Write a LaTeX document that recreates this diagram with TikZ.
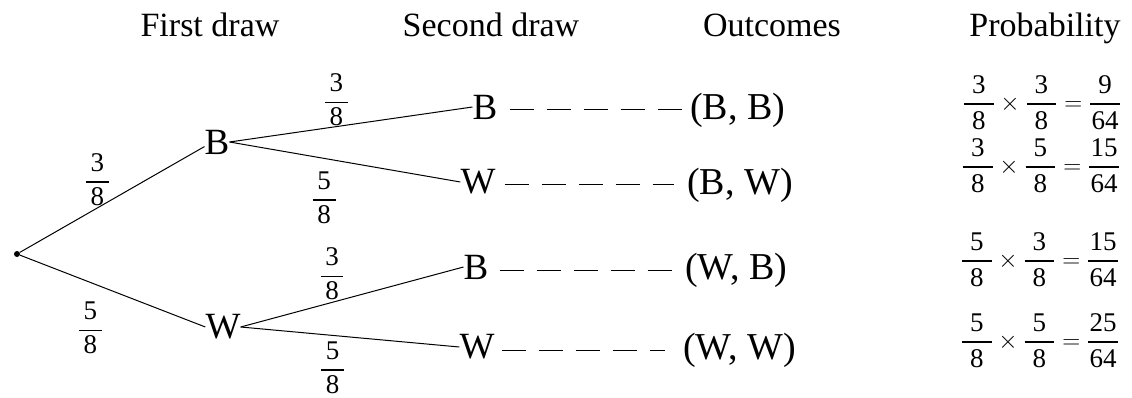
\documentclass[tikz,border=0pt]{standalone}
\usepackage{fontspec}
\setmainfont{Liberation Serif}
\usepackage{tikz}

\newcommand{\brfrac}[2]{$\displaystyle{\makebox[0.85em]{#1}\above1.4pt\makebox[0.85em]{#2}}$}
\newcommand{\pfrac}[2]{\displaystyle{\makebox[1.1em]{#1}\above2.2pt\makebox[1.1em]{#2}}}

\begin{document}
\begin{tikzpicture}[x=1pt, y=-1pt]
    \tikzstyle{head} = [anchor=base, font=\fontsize{34}{40}\selectfont]
    \tikzstyle{pick} = [inner sep=0pt, font=\fontsize{37}{42}\selectfont]
    \tikzstyle{outcome} = [inner sep=0pt, anchor=west, font=\fontsize{38}{44}\selectfont]
    \tikzstyle{branch} = [inner sep=0pt, font=\fontsize{27}{30}\selectfont]
    \tikzstyle{prob} = [inner sep=0pt, font=\fontsize{27}{32}\selectfont]
    \tikzstyle{limb} = [line width=1pt]
    \tikzstyle{trail} = [line width=1pt, dash pattern=on 24pt off 13pt]

    \useasboundingbox (0,0) rectangle (1132,398);

    % Column headings
    \node (hfirst) [head] at (210,37) {First draw};
    \node (hsecond) [head] at (491,37) {Second draw};
    \node (hout) [head] at (772,37) {Outcomes};
    \node (hprob) [head] at (1045,37) {Probability};

    % Tree (first and second draw)
    \node (root) [circle, fill, inner sep=0pt, minimum size=6pt] at (17,254) {};
    \node (b) [pick] at (217,142) {B};
    \node (w) [pick] at (223,327) {W};
    \node (bb) [pick] at (485,107) {B};
    \node (bw) [pick] at (478,182) {W};
    \node (wb) [pick] at (476,267) {B};
    \node (ww) [pick] at (477,347) {W};

    \draw[limb] (root) -- node[branch, pos=0.42, above=2pt] {\brfrac{3}{8}} (b.200);
    \draw[limb] (root) -- node[branch, pos=0.38, below=19pt] {\brfrac{5}{8}} (w.west);
    \draw[limb] (b.east) -- node[branch, pos=0.44, above=0pt] {\brfrac{3}{8}} (bb.west);
    \draw[limb] (b.east) -- node[branch, pos=0.41, below=13pt] {\brfrac{5}{8}} (bw.west);
    \draw[limb] (w.east) -- node[branch, pos=0.41, above=2pt] {\brfrac{3}{8}} (wb.west);
    \draw[limb] (w.east) -- node[branch, pos=0.42, below=6pt] {\brfrac{5}{8}} (ww.west);

    % Outcomes (dashed leaders)
    \node (obb) [outcome] at (690,110) {(B, B)};
    \node (obw) [outcome] at (687,185) {(B, W)};
    \node (owb) [outcome] at (685,270) {(W, B)};
    \node (oww) [outcome] at (683,350) {(W, W)};

    \draw[trail, shorten <=12pt, shorten >=6pt] (bb.east |- obb.west) -- (obb.west);
    \draw[trail, shorten <=9pt, shorten >=13pt] (bw.east |- obw.west) -- (obw.west);
    \draw[trail, shorten <=11pt, shorten >=12pt] (wb.east |- owb.west) -- (owb.west);
    \draw[trail, shorten <=7pt, shorten >=18pt] (ww.east |- oww.west) -- (oww.west);

    % Probabilities
    \node (pbb) [prob] at (1042,103) {$\pfrac{3}{8}\times\pfrac{3}{8}=\pfrac{9}{64}$};
    \node (pbw) [prob] at (1041,166) {$\pfrac{3}{8}\times\pfrac{5}{8}=\pfrac{15}{64}$};
    \node (pwb) [prob] at (1040,260) {$\pfrac{5}{8}\times\pfrac{3}{8}=\pfrac{15}{64}$};
    \node (pww) [prob] at (1040,341) {$\pfrac{5}{8}\times\pfrac{5}{8}=\pfrac{25}{64}$};
\end{tikzpicture}
\end{document}
